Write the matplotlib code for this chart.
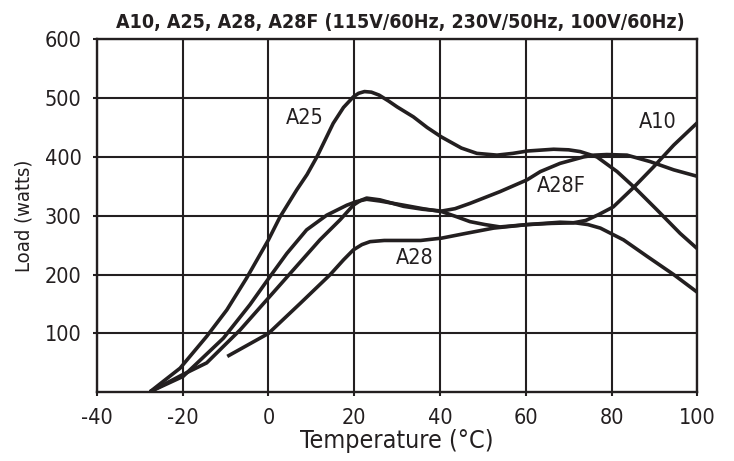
import matplotlib.pyplot as plt

# Load curves (temperature in C, load in watts)
a25_t = [-27.6, -20.6, -14.4, -9.7, -5.1, 0.0, 2.7, 6.6, 9.0, 11.3, 13.3, 15.1, 17.5, 19.8, 21.0,
         22.4, 24.0, 25.8, 28, 30, 33.8, 37, 40.3, 45, 48.6, 53.3, 57, 60.4, 66.5, 70, 72.7,
         76.6, 81.3, 85.5, 90.6, 96, 100]
a25_w = [1, 41, 95, 140, 194, 259, 298, 344, 370, 400, 430, 457, 484, 502, 508,
         511, 510, 505, 495, 485, 468, 450, 434, 415, 406, 403, 406, 410, 413, 412, 409,
         400, 375, 347, 310, 270, 244]

a10_t = [-27.6, -19.9, -10.5, -4.3, 0.4, 4.3, 8.9, 13.6, 18.3, 20.5, 22.9, 26, 31.5, 36,
         40.4, 44, 47, 50.5, 54, 60.4, 66, 71.1, 74, 77, 80.4, 85, 89.8, 94.5, 100]
a10_w = [1, 27, 92, 149, 197, 236, 276, 301, 318, 324, 328, 325, 318, 312,
         307, 298, 290, 285, 281, 285, 287, 288, 292, 302, 315, 347, 383, 420, 458]

a28f_t = [-27.6, -20, -14.4, -6.6, -0.4, 5.8, 12, 16.7, 19.8, 21.5, 22.9, 26, 31.5, 36,
          40.4, 43.5, 47, 54, 60.3, 63.4, 68, 73.5, 76, 78.9, 83.6, 89, 94.5, 100]
a28f_w = [1, 30, 50, 106, 157, 208, 259, 293, 318, 326, 330, 327, 316, 311,
          308, 312, 321, 341, 361, 375, 389, 400, 403, 404, 403, 392, 378, 367]

a28_t = [-9.6, 0, 7.4, 14.4, 17.5, 19.8, 21.8, 23.7, 27, 30.7, 35.5, 40.4, 46, 52.5, 60.4,
         68, 71.5, 74.5, 77.4, 82.8, 88.3, 94.5, 100]
a28_w = [61, 100, 151, 200, 225, 242, 251, 256, 258, 258, 258, 262, 270, 279, 285,
         289, 288, 285, 279, 259, 231, 200, 170]

labels = ['A25', 'A10', 'A28F', 'A28']
label_pos = [(8.5, 466), (90.7, 459), (68.3, 350), (34.2, 228)]

xticks = [-40, -20, 0, 20, 40, 60, 80, 100]
yticks = [100, 200, 300, 400, 500, 600]

plt.rcParams['font.family'] = ['DejaVu Sans']
plt.rcParams['font.stretch'] = 'condensed'
plt.rcParams['axes.unicode_minus'] = False

fig = plt.figure(figsize=(7.34, 4.61), dpi=100)
ax = fig.add_axes([0.132, 0.149, 0.818, 0.766])

ink = '#231f20'
for t, w in [(a25_t, a25_w), (a10_t, a10_w), (a28f_t, a28f_w), (a28_t, a28_w)]:
    ax.plot(t, w, color=ink, lw=2.6, solid_capstyle='butt', solid_joinstyle='round', zorder=3)

for txt, (x, y) in zip(labels, label_pos):
    ax.text(x, y, txt, ha='center', va='center', fontsize=15.5, color=ink, zorder=4)

ax.set_xlim(-40, 100)
ax.set_ylim(0, 600)
ax.set_xticks(xticks)
ax.set_yticks(yticks)
ax.grid(True, color=ink, lw=1.5)
ax.tick_params(length=3, width=1.5, color=ink, labelsize=15.5, labelcolor=ink, pad=8)
for s in ax.spines.values():
    s.set_color(ink)
    s.set_linewidth(1.7)

ax.set_xlabel('Temperature (°C)', fontsize=18, color=ink, labelpad=1)
ax.set_ylabel('Load (watts)', fontsize=14.5, color=ink, labelpad=8)
fig.text(0.545, 0.939, 'A10, A25, A28, A28F (115V/60Hz, 230V/50Hz, 100V/60Hz)',
         ha='center', va='baseline', fontsize=14, fontweight='bold', color=ink)

fig.savefig('out.png', dpi=100)
